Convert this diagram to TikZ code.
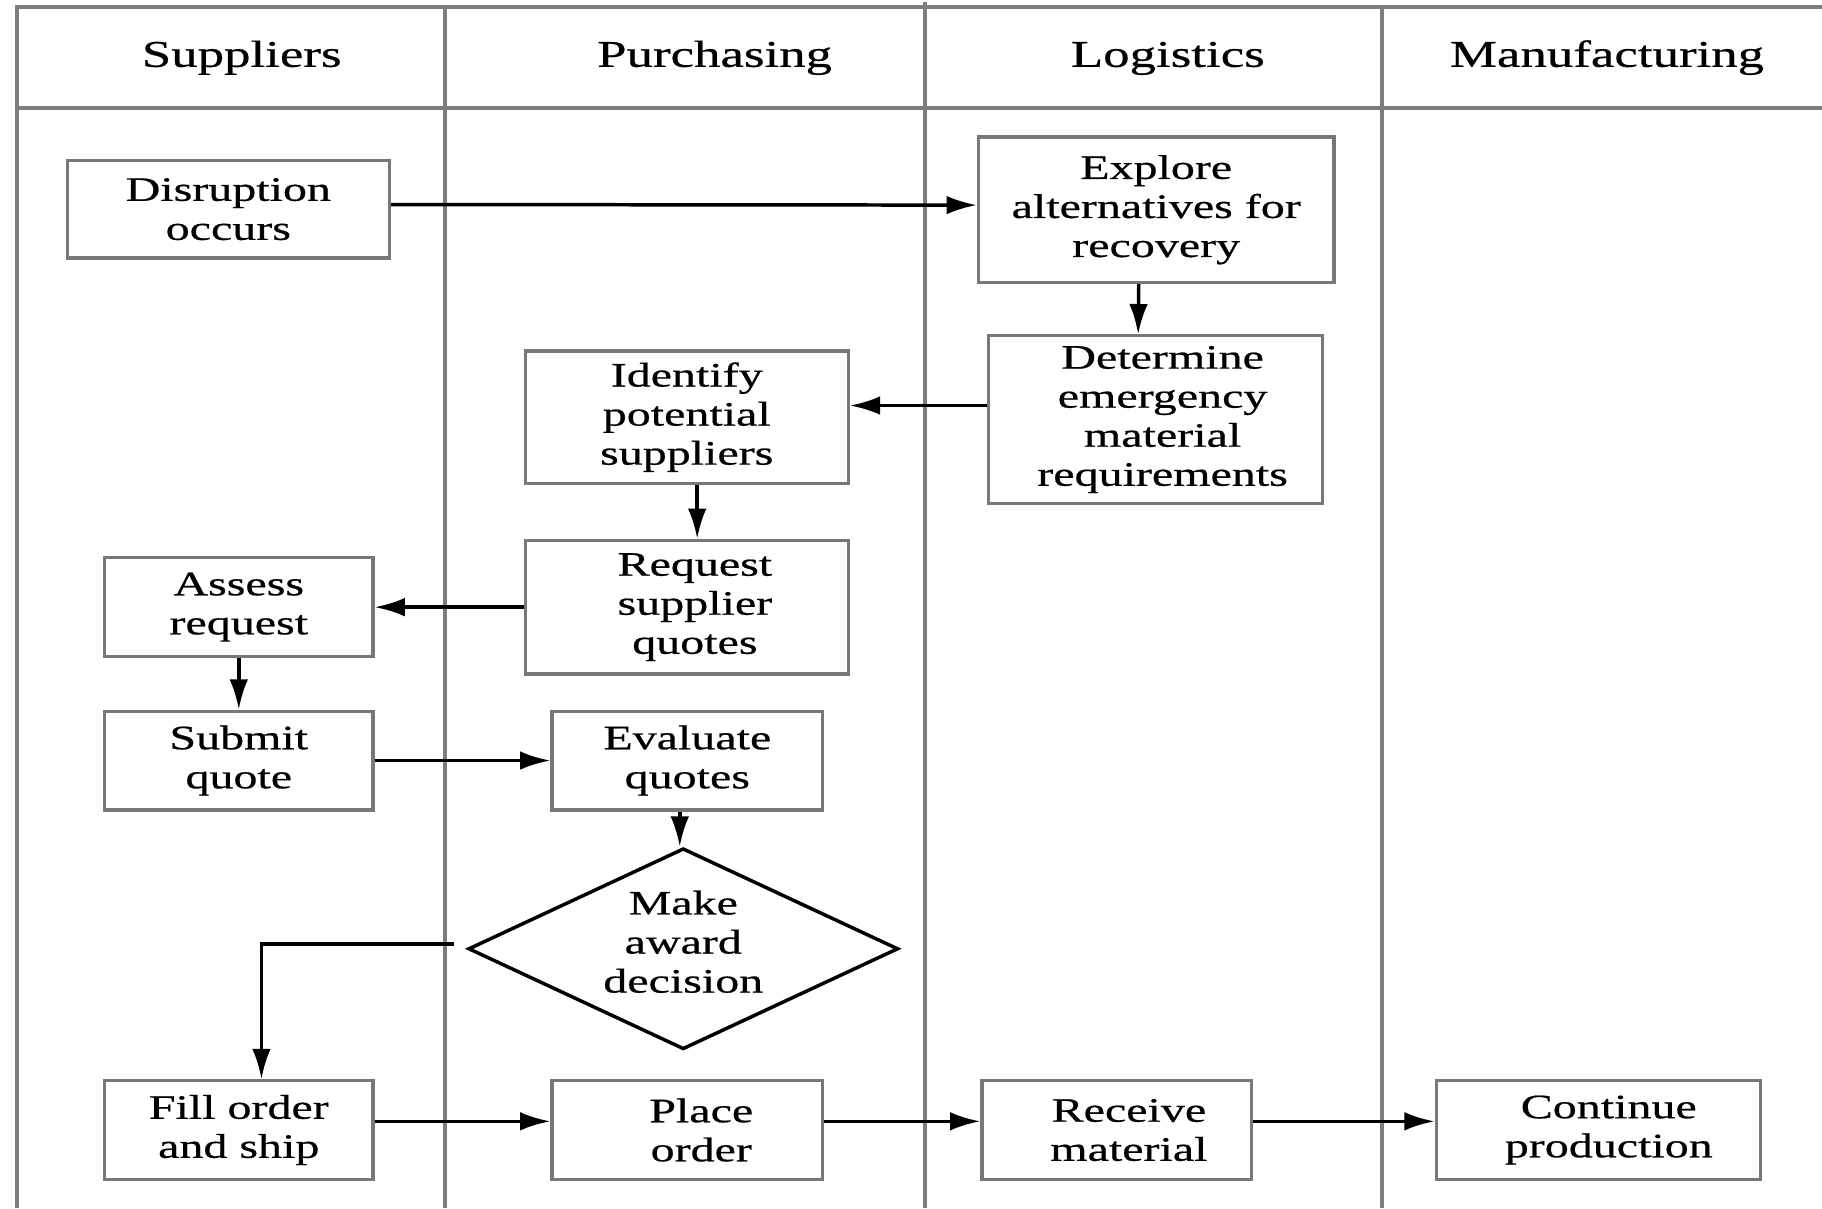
\documentclass[tikz,border=0pt]{standalone}
\usepackage{fontspec}
\usetikzlibrary{arrows.meta,shapes.geometric}
\newfontfamily\lanefont{Liberation Serif}[FakeStretch=1.4,FakeBold=0.6]
\newcommand\boxtext{\lanefont\fontsize{14.75pt}{16.8pt}\selectfont}
\newcommand\headtext{\lanefont\fontsize{16.25pt}{19pt}\selectfont}
% pad a centred line on the left so that it sits right of the box centre
\newcommand\padleft[2]{\hspace*{#1}#2}
\definecolor{lanegray}{RGB}{125,125,125}
\definecolor{boxgray}{RGB}{120,120,120}
\begin{document}
\begin{tikzpicture}[x=0.5pt,y=-0.5pt,
  frame/.style={draw=lanegray,line width=1.7pt},
  stepbox/.style={rectangle,draw=boxgray,line width=1.4pt,fill=white,
    inner sep=0pt,align=center,font=\boxtext,text=black},
  small/.style={minimum width=115.5pt,minimum height=42.5pt},
  decision/.style={diamond,draw=black,line width=1.5pt,fill=white,inner sep=0pt},
  head/.style={font=\headtext,anchor=base,text=black},
  arr/.style={draw=black,line width=1.5pt,-{Latex[length=13pt,width=8pt]}}]
\useasboundingbox (0,0) rectangle (1568,1040);

% swimlane frame
\draw[frame] (15,1040) -- (15,6) -- (1568,6);
\draw[frame] (15,93) -- (1568,93);
\draw[frame] (383,6) -- (383,1040);
\draw[frame] (796,2) -- (796,1040);
\draw[frame] (1189,6) -- (1189,1040);

% lane titles
\node[head] (hsup) at (208,57.5) {Suppliers};
\node[head] (hpur) at (615,57.5) {Purchasing};
\node[head] (hlog) at (1005,57.5) {Logistics};
\node[head] (hman) at (1383,57.5) {Manufacturing};

% process steps
\node[stepbox,minimum width=138.5pt,minimum height=42pt] (disr) at (196.5,180) {Disruption\\occurs};
\node[stepbox,minimum width=153pt,minimum height=62.5pt] (explore) at (995,180.5) {Explore\\alternatives for\\recovery};
\node[stepbox,minimum width=143.5pt,minimum height=72pt] (determine) at (994.5,361) {\padleft{6pt}{Determine}\\\padleft{6pt}{emergency}\\\padleft{6pt}{material}\\\padleft{6pt}{requirements}};
\node[stepbox,minimum width=139pt,minimum height=57pt] (identify) at (591,359) {Identify\\potential\\suppliers};
\node[stepbox,minimum width=139pt,minimum height=57.5pt] (request) at (591,522.5) {\padleft{7pt}{Request}\\\padleft{7pt}{supplier}\\\padleft{7pt}{quotes}};
\node[stepbox,small] (assess) at (205.5,522.5) {Assess\\request};
\node[stepbox,small] (submit) at (205.5,654.5) {Submit\\quote};
\node[stepbox,small,minimum width=116.5pt] (evaluate) at (591.5,654.5) {Evaluate\\quotes};
\node[decision,minimum width=185pt,minimum height=86.5pt,
  label={[font=\boxtext,align=center,yshift=3pt]center:Make\\award\\decision}] (award) at (588,816.5) {};
\node[stepbox,small] (fill) at (205.5,972.5) {Fill order\\and ship};
\node[stepbox,small,minimum width=116.5pt] (place) at (591.5,972.5) {\padleft{12pt}{Place}\\\padleft{12pt}{order}};
\node[stepbox,small,minimum width=116pt] (receive) at (961,972.5) {\padleft{10.5pt}{Receive}\\\padleft{10.5pt}{material}};
\node[stepbox,small,minimum width=139.5pt] (cont) at (1375.5,972.5) {\padleft{9pt}{Continue}\\\padleft{9pt}{production}};

% flow
\draw[arr] ([yshift=2pt]disr.east) -- ([yshift=2pt]explore.west);
\draw[arr] ([xshift=-7.5pt]explore.south) -- ([xshift=-7.5pt]determine.north);
\draw[arr] ([yshift=6pt]determine.west) -- ([yshift=6pt]determine.west -| identify.east);
\draw[arr] ([xshift=4.5pt]identify.south) -- ([xshift=4.5pt]request.north);
\draw[arr] (request.west) -- (assess.east);
\draw[arr] (assess.south) -- (submit.north);
\draw[arr] (submit.east) -- (evaluate.west);
\draw[arr] ([xshift=-1.5pt]award.north |- evaluate.south) -- ([xshift=-1.5pt]award.north);
\draw[arr] ([xshift=-5.5pt,yshift=2pt]award.west) -| ([xshift=9.75pt]fill.north);
\draw[arr] ([yshift=3.75pt]fill.east) -- ([yshift=3.75pt]place.west);
\draw[arr] ([yshift=3.75pt]place.east) -- ([yshift=3.75pt]receive.west);
\draw[arr] ([yshift=3.75pt]receive.east) -- ([yshift=3.75pt]cont.west);
\end{tikzpicture}
\end{document}
